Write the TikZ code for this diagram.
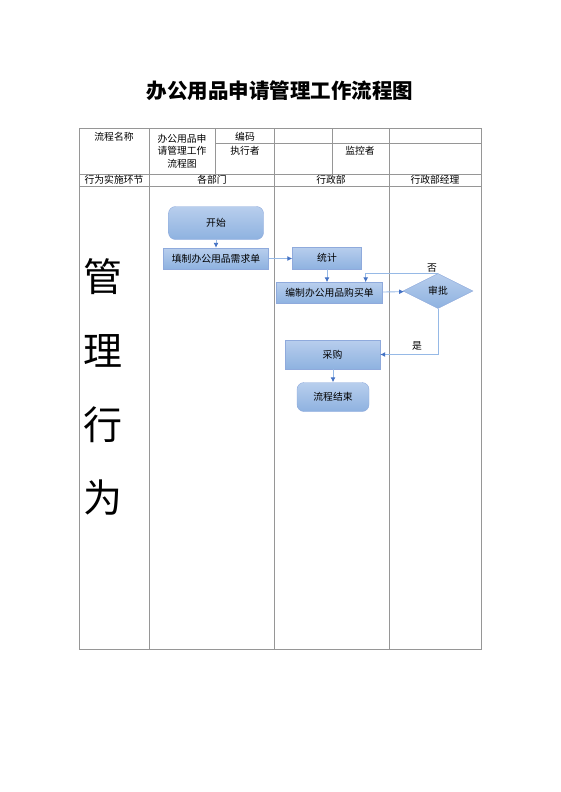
\documentclass[tikz,border=0pt]{standalone}
\usepackage{fontspec}
\setmainfont{Noto Sans CJK SC}
\usetikzlibrary{shapes.geometric, arrows.meta}
\usepackage{xcolor}
\definecolor{gridgray}{RGB}{150, 150, 150}
\definecolor{boxline}{RGB}{143, 170, 220}
\definecolor{boxtop}{RGB}{184, 206, 237}
\definecolor{boxbottom}{RGB}{142, 178, 224}
\definecolor{linkblue}{RGB}{150, 185, 230}
\definecolor{tipblue}{RGB}{68, 114, 196}

\begin{document}
\begin{tikzpicture}[x=1pt, y=-1pt,
        grid/.style={gridgray, line width=0.8pt},
        cell/.style={font=\fontsize{9.8}{12.5}\selectfont, inner sep=0pt},
        box/.style={draw=boxline, top color=boxtop, bottom color=boxbottom, font=\fontsize{9.8}{12}\selectfont, inner sep=0pt},
        endbox/.style={box, rounded corners=7pt},
        decide/.style={box, diamond, minimum width=70pt, minimum height=35pt},
        link/.style={linkblue, line width=0.9pt, -{Latex[length=5pt, width=5pt, color=tipblue]}}]
        \useasboundingbox (0,0) rectangle (560,792);

        % Title
        \node[font=\fontsize{20.5}{24}\selectfont\bfseries] (title) at (280,91) {办公用品申请管理工作流程图};

        % Table grid
        \draw[grid] (79,128) rectangle (481,649);
        \draw[grid] (215,143) -- (481,143);
        \draw[grid] (79,174) -- (481,174);
        \draw[grid] (79,186) -- (481,186);
        \foreach \x in {149,274,389} {
            \draw[grid] (\x,128) -- (\x,649);
        }
        \foreach \x in {215,332} {
            \draw[grid] (\x,128) -- (\x,174);
        }

        % Table texts
        \node[cell] (name) at (114,136.5) {流程名称};
        \node[cell, align=center] (subject) at (182,151) {办公用品申\\请管理工作\\流程图};
        \node[cell] (code) at (245,136.5) {编码};
        \node[cell] (doer) at (245,151) {执行者};
        \node[cell] (watcher) at (360,151) {监控者};
        \node[cell] (stage) at (114,180) {行为实施环节};
        \node[cell] (lane1) at (212,180) {各部门};
        \node[cell] (lane2) at (331,180) {行政部};
        \node[cell] (lane3) at (435,180) {行政部经理};

        % Left column
        \foreach \c/\y in {管/277,理/351,行/425,为/498} {
            \node[font=\fontsize{39}{40}\selectfont] at (103,\y) {\c};
        }

        % Flow nodes
        \node[endbox, minimum width=95pt, minimum height=33pt] (start) at (216,223) {开始};
        \node[box, minimum width=105pt, minimum height=21pt] (request) at (216,258.5) {填制办公用品需求单};
        \node[box, minimum width=69pt, minimum height=22pt] (count) at (327,258) {统计};
        \node[box, minimum width=106pt, minimum height=21pt] (order) at (329.5,293) {编制办公用品购买单};
        \node[decide] (approve) at (438,291) {审批};
        \node[box, minimum width=95pt, minimum height=29pt] (buy) at (332.5,354.5) {采购};
        \node[endbox, minimum width=72pt, minimum height=29pt] (finish) at (333,397) {流程结束};

        % Connectors
        \draw[link] (start) -- (request);
        \draw[link] (request.east) -- (count.west |- request.east);
        \draw[link] (count.south) -- (count.south |- order.north);
        \draw[link] (order) -- (approve);
        \draw[link] (approve.north) -| ([xshift=-17pt]order.north east);
        \draw[link] (approve.south) |- (buy.east);
        \draw[link] (buy.south -| finish.north) -- (finish);
        \node[cell] (no) at (432,268) {否};
        \node[cell] (yes) at (417,346) {是};
    \end{tikzpicture}
\end{document}
